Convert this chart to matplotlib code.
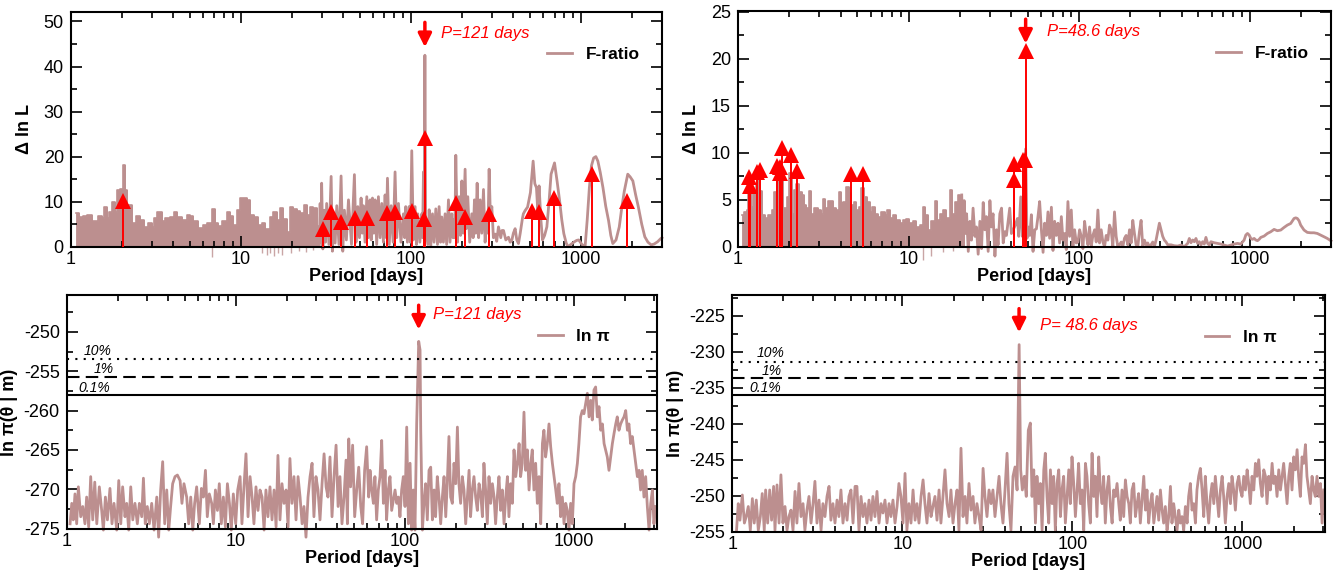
import numpy as np
import matplotlib.pyplot as plt
from matplotlib.ticker import MultipleLocator, FormatStrFormatter, NullFormatter

plt.rcParams['font.family'] = ['Liberation Sans', 'DejaVu Sans']
plt.rcParams['axes.unicode_minus'] = False

LINE_COLOR = '#bc8f8f'
RED = '#ff0000'

# ---------------- top left: F-ratio, 121 d ----------------
# dense short-period part drawn as a filled step envelope (period [d], value)
tl_env_p = [1.075, 1.124, 1.187, 1.242, 1.329, 1.391, 1.455, 1.521, 1.571, 1.628, 1.688, 1.750,
            1.823, 1.882, 1.950, 2.022, 2.078, 2.154, 2.284, 2.422, 2.556, 2.711, 2.863, 2.995,
            3.093, 3.234, 3.43, 3.59, 3.84, 4.05, 4.20, 4.50, 4.81, 5.04, 5.27, 5.64, 6.03, 6.31,
            6.75, 7.06, 7.39, 7.73, 8.27, 8.65, 8.97, 9.47, 9.91, 10.84, 11.35, 11.97, 12.70,
            13.29, 13.90, 14.88, 15.56, 16.29, 17.03, 17.83, 18.65, 19.5, 20.4, 21.3, 22.3, 23.4,
            24.4, 25.6, 26.7, 28.0, 29.0]
tl_env_v = [7.4, 6.7, 6.8, 7.0, 5.7, 5.8, 6.9, 6.3, 8.9, 6.3, 7.6, 9.9,
            7.8, 12.6, 12.7, 18.1, 12.6, 9.3, 5.2, 6.8, 5.9, 4.4, 5.2, 4.4,
            6.3, 7.8, 5.8, 6.3, 6.7, 7.6, 6.5, 5.9, 7.0, 6.8, 5.6, 4.1, 4.8, 5.2,
            8.3, 5.2, 4.6, 5.7, 7.8, 6.8, 4.8, 8.1, 10.7, 10.4, 7.0, 6.7, 4.8,
            5.3, 3.9, 6.7, 7.6, 5.9, 8.5, 6.1, 3.3, 8.8, 8.3, 7.9, 7.5, 9.2,
            7.1, 8.8, 8.6, 4.5, 4.5]
tl_dips = [(6.75, -2.2), (13.3, -1.5), (14.2, -1.8), (14.9, -1.3), (15.7, -2.0), (16.6, -1.5),
           (17.4, -1.8), (19.8, -1.5), (22.0, -1.0), (24.3, -1.2), (26.5, -0.8)]
tl_line = [(29.0, 0.5), (29.3, 9.6), (29.6, 1.0), (29.9, 14.1), (30.4, -0.5), (31.0, 8.1),
           (31.5, 1.0), (32.0, 9.6), (33.0, 0.5), (34.0, 15.6), (34.6, -1.0), (35.1, 7.3),
           (35.9, 0.8), (36.7, 9.1), (37.8, 0.5), (38.9, 15.7), (39.8, -1.0), (40.7, 8.1),
           (41.8, 1.5), (43.0, 10.4), (44.8, 0.5), (46.6, 16.0), (47.6, 1.0), (48.8, 8.9),
           (49.9, 2.0), (51.0, 10.8), (51.8, 3.0), (52.6, 9.1), (53.8, 1.0), (55.1, 11.1),
           (56.3, 2.0), (57.6, 10.4), (58.5, 1.5), (59.5, 10.8), (60.6, 3.0), (61.7, 10.4),
           (63.0, 0.5), (64.5, 11.1), (66.0, 2.0), (67.5, 9.6), (69.0, 1.0), (70.6, 11.5),
           (71.7, 2.0), (72.9, 15.2), (74.7, 0.5), (76.6, 9.1), (78.7, 1.0), (80.8, 16.6),
           (82.6, 2.0), (84.6, 9.6), (87.5, 1.0), (90.5, 7.3), (92.0, 2.0), (93.4, 8.9),
           (95.5, 1.0), (97.7, 8.9), (99.5, 1.0), (101.3, 21.3), (103.5, 1.5), (106.0, 8.9),
           (108.0, 0.5), (109.9, 7.3), (113.0, 1.0), (116.0, 7.3), (117.3, 2.0), (118.7, 16.6),
           (119.8, 4.0), (121.0, 42.5), (122.3, 4.0), (126.0, 0.5), (128.2, 8.2), (131.0, 0.0),
           (134.1, 7.3), (137.0, 1.0), (140.3, 8.4), (143.5, 0.5), (146.7, 8.9), (149.5, 1.0),
           (152.1, 6.6), (155.5, 1.0), (159.1, 7.3), (162.5, 0.5), (166.5, 10.4), (170.0, 1.0),
           (174.2, 7.3), (177.0, 2.0), (179.5, 6.0), (181.5, 2.0), (183.9, 20.3), (188.0, 1.0),
           (192.3, 11.1), (196.0, 2.5), (199.5, 14.6), (203.0, 3.0), (208.6, 17.2), (212.0, 4.0),
           (216.3, 11.1), (222.0, 1.0), (228.4, 7.3), (232.5, 2.0), (236.8, 10.4), (241.0, 3.0),
           (245.5, 14.1), (250.5, 2.0), (255.7, 10.4), (261.5, 3.0), (267.5, 12.7), (273.5, 1.0),
           (279.9, 6.6), (284.0, 3.0), (288.8, 17.2), (294.0, 6.0), (299.5, 8.9), (306.0, 2.0),
           (313.3, 2.8), (320.0, 1.2), (327.7, 4.4), (338.0, 2.0), (344.0, 3.6), (350.8, 3.6),
           (362.0, 1.5), (375.3, 2.1), (384.0, 1.0), (392.6, 1.4), (401.0, 3.0), (410.7, 4.0),
           (420.0, 1.5), (429.7, 0.7), (440.0, 3.0), (453.8, 6.4), (459.0, 7.3), (469.8, 8.0),
           (486.0, 8.8), (505.0, 12.0), (524.0, 19.0), (536.0, 14.0), (548.0, 13.1), (558.0, 8.0),
           (568.0, 13.5), (582.0, 6.0), (595.0, 1.5), (612.0, 2.5), (631.0, 4.4), (650.0, 10.0),
           (668.0, 16.1), (700.0, 18.6), (725.0, 14.5), (750.0, 10.2), (772.0, 6.0), (794.0, 2.9),
           (820.0, 0.8), (841.0, 0.0), (880.0, 0.6), (917.0, 1.1), (945.0, 1.4), (971.0, 1.5),
           (1015.0, 0.5), (1059.0, 0.0), (1090.0, 6.0), (1122.0, 13.1), (1155.0, 18.0),
           (1189.0, 19.7), (1225.0, 20.0), (1259.0, 19.0), (1300.0, 16.5), (1349.0, 13.1),
           (1400.0, 9.0), (1455.0, 5.8), (1500.0, 2.5), (1541.0, 0.7), (1610.0, 1.5),
           (1682.0, 4.4), (1745.0, 9.0), (1802.0, 12.4), (1887.0, 16.1), (1950.0, 15.5),
           (2022.0, 14.6), (2100.0, 11.5), (2179.0, 8.8), (2280.0, 5.0), (2377.0, 2.2),
           (2480.0, 1.0), (2593.0, 0.4), (2700.0, 0.6), (2826.0, 1.1), (2950.0, 1.8), (3000.0, 2.0)]
tl_signals = [(2.04, 10.2), (30.5, 4.0), (33.8, 7.8), (38.8, 5.4), (47.0, 6.3), (55.2, 6.4),
              (72.4, 7.5), (81.0, 7.8), (102.0, 7.9), (119.0, 6.1), (121.0, 24.2), (184.0, 9.7),
              (207.0, 6.7), (289.0, 7.3), (515.0, 8.0), (571.0, 7.7), (699.0, 10.8),
              (1156.0, 16.1), (1866.0, 10.2)]

# ---------------- top right: F-ratio, 48.6 d ----------------
tr_env_p = [1.05, 1.089, 1.124, 1.149, 1.191, 1.229, 1.269, 1.303, 1.345, 1.375, 1.439, 1.504,
            1.574, 1.632, 1.691, 1.737, 1.784, 1.841, 1.925, 1.987, 2.060, 2.135, 2.203, 2.274,
            2.357, 2.443, 2.521, 2.613, 2.697, 2.795, 2.950, 3.058, 3.155, 3.256, 3.375, 3.498,
            3.626, 3.758, 3.896, 4.002, 4.149, 4.320, 4.458, 4.62, 4.79, 4.94, 5.10, 5.29, 5.48,
            5.68, 5.92, 6.11, 6.33, 6.62, 6.92, 7.24, 7.50, 7.78, 8.10, 8.47, 8.86, 9.26, 9.69,
            10.1, 10.6, 11.1, 11.6, 12.1, 12.5, 13.0, 13.6, 14.2, 14.7, 15.2, 15.9, 16.6, 17.4,
            17.9, 18.6, 19.4, 20.1, 20.5]
tr_env_v = [3.4, 3.7, 3.9, 6.4, 4.2, 6.0, 6.7, 7.1, 5.9, 3.4, 3.1, 3.4,
            3.9, 5.8, 7.4, 8.1, 7.1, 4.1, 5.3, 7.8, 3.5, 6.0, 6.7, 5.8,
            5.5, 4.4, 4.1, 5.9, 3.5, 4.1, 3.9, 3.5, 5.1, 4.1, 4.9, 4.9,
            4.1, 3.9, 5.8, 4.6, 4.8, 6.4, 5.7, 4.4, 4.8, 3.9, 4.2, 6.2, 5.3,
            4.8, 3.7, 4.2, 3.5, 3.2, 3.7, 3.4, 3.9, 3.0, 3.4, 2.8, 2.5, 2.8, 2.9,
            2.5, 2.7, 2.1, 2.3, 4.2, 3.4, 1.8, 2.7, 4.9, 2.8, 3.5, 3.9, 3.0, 6.0,
            3.5, 4.8, 5.5, 3.2, 3.2]
tr_dips = [(12.1, -1.4), (13.6, -1.0), (16.0, -0.6), (18.2, -0.5)]
tr_line = [(20.5, 5.5), (20.9, 0.0), (21.2, 4.9), (21.6, 1.4), (21.9, 3.5), (22.4, -0.5),
           (22.9, 2.7), (23.4, 0.7), (23.9, 4.1), (24.5, 1.1), (25.0, 2.1), (25.6, -0.8),
           (26.2, 2.7), (26.8, -0.2), (27.4, 4.7), (28.0, 1.8), (28.6, 3.2), (29.3, -0.5),
           (30.0, 4.9), (30.6, 2.1), (31.3, 3.5), (32.1, -1.0), (32.8, 1.8), (33.5, 0.2),
           (34.3, 3.5), (35.1, 4.1), (35.9, 0.4), (36.7, 1.6), (37.5, 1.2), (39.2, 4.1),
           (40.1, 1.4), (42.3, 2.3), (43.5, 3.0), (44.3, 1.1), (45.5, 5.3), (46.5, 1.1),
           (47.2, 3.0), (48.6, 10.4), (49.5, 0.9), (50.2, 2.1), (51.4, 1.2), (52.5, 3.4),
           (53.7, -0.5), (55.0, 1.8), (56.2, 1.9), (57.4, 3.2), (58.7, 4.8), (60.1, 1.8),
           (61.5, -0.6), (62.8, 2.5), (64.3, 1.2), (65.7, 3.7), (67.2, 0.9), (68.8, 4.2),
           (70.3, -0.4), (71.9, 2.7), (73.5, 1.2), (75.2, 2.5), (76.9, 0.4), (78.7, 3.2),
           (80.4, 0.7), (82.3, 1.4), (84.1, -0.3), (86.0, 4.8), (88.0, 1.1), (90.0, 3.9),
           (92.0, 0.0), (94.1, 1.8), (96.3, 0.4), (98.5, 0.5), (100.7, 1.8), (103.0, 1.1),
           (105.3, -0.2), (107.7, 2.7), (110.2, 1.2), (112.7, 0.2), (115.2, 2.1), (117.8, 0.0),
           (120.5, 1.2), (123.3, 1.8), (126.0, 0.5), (128.9, 3.9), (131.8, 0.4), (134.8, 1.8),
           (137.9, 0.5), (141.0, 0.0), (144.2, 1.2), (147.5, 0.7), (150.8, 2.3), (154.2, 1.8),
           (157.7, 0.0), (161.3, 3.7), (165.0, 1.1), (168.7, 0.0), (172.6, 0.2), (176.5, 0.5),
           (180.5, 0.0), (184.6, 0.9), (188.8, 1.2), (193.1, 0.2), (197.5, 1.8), (201.9, 0.4),
           (206.5, 2.8), (211.2, 1.4), (216.0, 0.2), (220.9, 0.0), (225.9, 1.6), (231.0, 2.8),
           (236.3, 0.0), (241.6, 0.7), (247.1, 0.2), (252.7, 0.4), (258.4, 0.0), (264.3, 0.2),
           (270.3, 0.5), (276.4, 0.0), (282.7, 0.7), (289.1, 1.6), (295.7, 2.5), (302.4, 1.8),
           (309.2, 1.1), (316.3, 0.7), (323.5, 0.5), (330.8, 0.2), (346.0, 0.2), (361.9, 0.1),
           (378.5, 0.07), (395.9, 0.18), (414.0, 0.0), (433.1, 0.35), (443.0, 0.88), (453.0, 0.42),
           (463.4, 0.71), (473.8, 0.53), (484.5, 0.88), (495.5, 0.35), (506.8, 0.53), (518.2, 0.18),
           (530.0, 0.53), (542.0, 0.28), (554.3, 0.99), (567.0, 0.35), (579.8, 0.18), (592.9, 0.53),
           (620.2, 0.42), (648.6, 0.35), (678.3, 0.28), (709.4, 0.18), (742.0, 0.07), (776.0, 0.18),
           (811.6, 0.28), (848.8, 0.35), (887.8, 0.28), (928.5, 0.71), (949.6, 1.24), (971.4, 1.41),
           (993.4, 1.24), (1016, 0.88), (1039, 0.78), (1063, 0.88), (1087, 0.71), (1112, 0.64),
           (1137, 0.78), (1163, 0.99), (1216, 1.13), (1272, 1.41), (1330, 1.59), (1391, 1.84),
           (1423, 1.77), (1455, 1.70), (1522, 1.77), (1592, 2.05), (1665, 2.30), (1741, 2.47),
           (1821, 3.0), (1862, 3.07), (1905, 3.0), (1948, 2.76), (1992, 2.30), (2084, 1.77),
           (2179, 1.52), (2279, 1.48), (2384, 1.48), (2493, 1.41), (2608, 1.24), (2728, 1.06),
           (2853, 0.88), (2984, 0.64), (3000, 0.62)]
tr_signals = [(1.165, 7.4), (1.175, 6.5), (1.285, 7.95), (1.345, 8.2), (1.683, 8.55),
              (1.76, 8.5), (1.76, 7.85), (1.80, 10.5), (2.04, 9.7), (2.21, 8.1), (4.58, 7.7),
              (5.41, 7.7), (41.6, 7.1), (41.6, 8.8), (46.8, 9.2), (48.0, 9.2), (48.6, 20.8)]

# ---------------- bottom left: ln pi, 121 d (log10 period, value) ----------------
bl_line = [(0.020, -274.4), (0.030, -271.8), (0.039, -273.9), (0.049, -270.6), (0.059, -274.4),
           (0.069, -269.7), (0.083, -273.5), (0.095, -272.2), (0.108, -274.4), (0.118, -271.0),
           (0.130, -274.8), (0.142, -268.4), (0.154, -273.9), (0.166, -269.1), (0.178, -274.4),
           (0.193, -269.7), (0.207, -272.7), (0.217, -275.2), (0.229, -271.0), (0.241, -273.9),
           (0.256, -269.9), (0.268, -274.4), (0.280, -271.8), (0.296, -275.2), (0.308, -268.9),
           (0.320, -274.4), (0.331, -269.7), (0.345, -273.5), (0.355, -271.8), (0.367, -275.2),
           (0.379, -269.7), (0.391, -273.9), (0.404, -271.8), (0.418, -274.4), (0.430, -271.8),
           (0.444, -273.5), (0.454, -268.6), (0.465, -274.4), (0.477, -272.2), (0.489, -274.4),
           (0.503, -271.8), (0.517, -275.2), (0.533, -271.0), (0.544, -276.1), (0.556, -270.1),
           (0.568, -266.5), (0.580, -274.4), (0.592, -270.1), (0.604, -275.2), (0.615, -272.2),
           (0.627, -269.3), (0.641, -268.4), (0.655, -268.2), (0.671, -268.9), (0.682, -271.8),
           (0.694, -269.3), (0.710, -271.0), (0.722, -274.4), (0.734, -271.0), (0.746, -275.2),
           (0.757, -271.8), (0.769, -269.7), (0.785, -274.4), (0.797, -269.9), (0.809, -271.0),
           (0.821, -267.6), (0.832, -273.5), (0.844, -270.6), (0.858, -271.8), (0.868, -274.4),
           (0.880, -270.1), (0.892, -272.7), (0.903, -269.3), (0.915, -274.4), (0.927, -271.0),
           (0.939, -274.8), (0.951, -269.3), (0.963, -271.8), (0.974, -275.2), (0.986, -270.6),
           (1.000, -274.4), (1.012, -270.1), (1.026, -268.4), (1.037, -274.4), (1.049, -269.7),
           (1.061, -265.5), (1.073, -273.5), (1.085, -268.4), (1.097, -271.0), (1.108, -274.4),
           (1.120, -269.7), (1.132, -272.7), (1.144, -270.1), (1.156, -271.0), (1.168, -275.2),
           (1.179, -270.1), (1.191, -273.5), (1.203, -269.7), (1.215, -273.9), (1.227, -270.1),
           (1.239, -274.8), (1.250, -265.7), (1.262, -273.9), (1.274, -269.3), (1.286, -271.8),
           (1.298, -270.1), (1.310, -274.8), (1.321, -266.1), (1.333, -271.8), (1.345, -268.4),
           (1.357, -273.9), (1.369, -268.4), (1.381, -271.0), (1.393, -274.4), (1.404, -272.2),
           (1.416, -276.1), (1.428, -271.0), (1.440, -268.4), (1.452, -266.7), (1.463, -273.5),
           (1.475, -268.4), (1.487, -270.1), (1.499, -273.9), (1.511, -269.3), (1.523, -265.5),
           (1.535, -269.7), (1.546, -271.0), (1.558, -265.9), (1.570, -273.5), (1.582, -268.4),
           (1.594, -264.4), (1.606, -272.2), (1.617, -268.4), (1.629, -274.4), (1.641, -271.0),
           (1.653, -266.3), (1.661, -274.4), (1.669, -263.6), (1.680, -269.7), (1.692, -264.4),
           (1.704, -273.5), (1.716, -270.1), (1.728, -267.2), (1.740, -272.2), (1.751, -274.4),
           (1.763, -267.6), (1.775, -264.6), (1.787, -271.0), (1.795, -267.6), (1.805, -270.1),
           (1.815, -271.8), (1.824, -268.4), (1.834, -273.9), (1.844, -270.1), (1.854, -268.4),
           (1.864, -263.8), (1.874, -271.8), (1.884, -267.6), (1.893, -273.9), (1.903, -270.1),
           (1.913, -268.4), (1.923, -272.7), (1.933, -271.4), (1.943, -270.1), (1.953, -271.8),
           (1.963, -271.0), (1.972, -273.5), (1.982, -270.1), (1.992, -268.4), (2.002, -272.2),
           (2.012, -262.1), (2.022, -274.4), (2.032, -266.7), (2.041, -275.2), (2.051, -270.1),
           (2.061, -275.2), (2.071, -261.7), (2.083, -251.2), (2.091, -252.3), (2.095, -262.5),
           (2.105, -275.2), (2.114, -271.8), (2.124, -269.3), (2.134, -273.9), (2.144, -267.6),
           (2.154, -267.2), (2.164, -273.9), (2.174, -270.1), (2.183, -273.5), (2.193, -268.4),
           (2.203, -271.0), (2.213, -274.4), (2.223, -271.0), (2.233, -268.4), (2.243, -273.5),
           (2.252, -269.3), (2.262, -263.3), (2.272, -271.0), (2.282, -271.8), (2.292, -266.7),
           (2.302, -269.3), (2.312, -262.1), (2.321, -269.3), (2.331, -271.8), (2.341, -268.4),
           (2.351, -270.1), (2.361, -274.4), (2.371, -271.0), (2.381, -267.6), (2.390, -273.5),
           (2.400, -270.1), (2.410, -268.4), (2.420, -271.0), (2.430, -272.7), (2.440, -269.3),
           (2.450, -270.6), (2.460, -273.5), (2.469, -266.7), (2.479, -270.1), (2.489, -274.4),
           (2.499, -268.4), (2.509, -271.8), (2.519, -269.3), (2.529, -271.0), (2.538, -274.4),
           (2.548, -271.0), (2.558, -268.4), (2.568, -272.7), (2.578, -270.1), (2.588, -274.4),
           (2.598, -271.0), (2.608, -268.4), (2.617, -273.5), (2.627, -269.3), (2.637, -271.8),
           (2.647, -265.0), (2.657, -268.4), (2.667, -266.7), (2.677, -264.2), (2.686, -268.4),
           (2.696, -266.7), (2.706, -260.2), (2.716, -267.6), (2.726, -265.0), (2.736, -270.1),
           (2.746, -266.7), (2.755, -265.0), (2.765, -270.1), (2.775, -266.7), (2.785, -271.8),
           (2.795, -268.4), (2.805, -274.4), (2.815, -264.2), (2.824, -262.5), (2.834, -265.9),
           (2.844, -264.2), (2.854, -261.7), (2.864, -264.6), (2.874, -266.7), (2.884, -268.4),
           (2.894, -270.1), (2.903, -271.8), (2.913, -269.3), (2.923, -273.5), (2.933, -271.0),
           (2.943, -274.4), (2.953, -271.8), (2.962, -272.7), (2.972, -275.2), (2.982, -271.8),
           (2.992, -274.4), (3.002, -269.3), (3.012, -268.4), (3.022, -266.7), (3.031, -264.2),
           (3.041, -260.8), (3.051, -260.0), (3.061, -260.4), (3.071, -259.1), (3.081, -257.8),
           (3.091, -260.8), (3.101, -258.7), (3.110, -261.2), (3.120, -257.4), (3.130, -257.0),
           (3.140, -260.8), (3.150, -259.5), (3.160, -262.5), (3.170, -261.7), (3.180, -264.2),
           (3.189, -265.0), (3.199, -265.9), (3.209, -267.6), (3.219, -265.9), (3.229, -264.2),
           (3.239, -262.9), (3.249, -261.7), (3.258, -260.8), (3.268, -262.5), (3.278, -261.7),
           (3.288, -261.2), (3.298, -260.8), (3.308, -260.0), (3.318, -262.5), (3.327, -261.7),
           (3.337, -264.2), (3.347, -263.3), (3.357, -265.0), (3.367, -266.7), (3.377, -268.4),
           (3.387, -267.6), (3.396, -270.1), (3.406, -267.6), (3.416, -271.0), (3.426, -268.4),
           (3.436, -272.2), (3.446, -275.2), (3.456, -271.8), (3.466, -270.1), (3.475, -274.4),
           (3.485, -272.2)]
bl_levels = [-253.4, -255.7, -258.0]

# ---------------- bottom right: ln pi, 48.6 d (log10 period, value) ----------------
br_line = [(0.025, -254.8), (0.035, -251.1), (0.045, -253.4), (0.059, -249.9), (0.071, -253.8),
           (0.082, -252.9), (0.094, -251.5), (0.106, -254.8), (0.118, -250.4), (0.129, -253.8),
           (0.141, -250.6), (0.153, -254.8), (0.165, -252.9), (0.176, -249.7), (0.188, -254.8),
           (0.196, -249.2), (0.208, -253.8), (0.220, -249.2), (0.231, -253.4), (0.243, -248.7),
           (0.251, -254.8), (0.263, -248.5), (0.275, -253.8), (0.286, -247.1), (0.298, -253.8),
           (0.310, -251.5), (0.322, -254.8), (0.333, -252.9), (0.345, -252.0), (0.357, -254.8),
           (0.369, -249.4), (0.380, -253.8), (0.392, -248.3), (0.404, -252.9), (0.416, -251.1),
           (0.427, -254.8), (0.439, -252.0), (0.451, -250.1), (0.463, -253.8), (0.475, -251.1),
           (0.486, -248.0), (0.498, -253.8), (0.510, -250.6), (0.522, -254.8), (0.533, -251.1),
           (0.545, -252.9), (0.557, -250.1), (0.569, -248.7), (0.580, -253.4), (0.592, -251.1),
           (0.604, -253.8), (0.616, -250.6), (0.627, -252.9), (0.639, -249.2), (0.651, -253.8),
           (0.663, -251.1), (0.675, -253.4), (0.686, -250.1), (0.698, -249.2), (0.710, -253.8),
           (0.722, -248.7), (0.733, -248.7), (0.745, -254.8), (0.757, -250.1), (0.769, -252.9),
           (0.780, -251.1), (0.792, -253.8), (0.804, -250.6), (0.816, -253.4), (0.827, -250.1),
           (0.839, -252.9), (0.851, -249.4), (0.863, -253.8), (0.875, -251.1), (0.886, -252.4),
           (0.898, -250.6), (0.910, -253.8), (0.922, -251.1), (0.933, -252.9), (0.945, -250.6),
           (0.957, -253.8), (0.969, -251.5), (0.980, -248.3), (0.992, -250.1), (1.004, -253.8),
           (1.016, -246.9), (1.027, -254.8), (1.039, -251.1), (1.051, -253.8), (1.063, -249.2),
           (1.075, -253.4), (1.086, -251.1), (1.098, -253.8), (1.110, -250.1), (1.122, -247.8),
           (1.133, -251.1), (1.145, -253.8), (1.157, -249.7), (1.169, -252.9), (1.180, -251.5),
           (1.192, -250.1), (1.204, -253.4), (1.216, -249.2), (1.227, -253.8), (1.239, -250.1),
           (1.251, -246.4), (1.263, -251.1), (1.275, -252.9), (1.286, -249.2), (1.298, -253.8),
           (1.310, -251.1), (1.322, -249.2), (1.333, -254.8), (1.345, -243.4), (1.357, -252.9),
           (1.369, -250.1), (1.380, -253.8), (1.392, -248.3), (1.404, -252.0), (1.416, -250.1),
           (1.427, -253.8), (1.439, -251.1), (1.451, -252.9), (1.463, -254.8), (1.475, -246.2),
           (1.486, -250.1), (1.498, -252.9), (1.510, -249.2), (1.522, -251.1), (1.533, -249.2),
           (1.545, -252.9), (1.557, -250.1), (1.569, -247.3), (1.580, -251.1), (1.592, -253.8),
           (1.604, -249.2), (1.616, -244.1), (1.627, -251.1), (1.639, -254.8), (1.651, -247.3),
           (1.663, -246.0), (1.675, -249.2), (1.687, -229.0), (1.696, -246.4), (1.706, -249.2),
           (1.718, -247.3), (1.729, -250.1), (1.741, -240.9), (1.753, -239.9), (1.763, -250.1),
           (1.773, -246.4), (1.783, -253.8), (1.792, -247.3), (1.802, -251.1), (1.812, -248.3),
           (1.822, -254.8), (1.832, -246.4), (1.841, -244.1), (1.851, -250.1), (1.861, -253.8),
           (1.871, -246.4), (1.881, -251.1), (1.890, -247.3), (1.900, -254.8), (1.910, -248.3),
           (1.920, -246.4), (1.930, -252.9), (1.939, -249.2), (1.949, -247.3), (1.959, -253.8),
           (1.969, -250.1), (1.979, -246.4), (1.988, -251.1), (1.998, -244.6), (2.008, -248.3),
           (2.018, -252.9), (2.028, -249.2), (2.037, -245.5), (2.047, -251.1), (2.057, -249.2),
           (2.067, -254.8), (2.077, -245.5), (2.086, -247.3), (2.096, -251.1), (2.106, -253.8),
           (2.116, -244.1), (2.126, -250.1), (2.135, -247.3), (2.145, -252.9), (2.155, -244.6),
           (2.165, -249.2), (2.175, -251.1), (2.184, -247.3), (2.194, -253.8), (2.204, -249.2),
           (2.214, -247.3), (2.224, -251.5), (2.234, -253.8), (2.243, -249.2), (2.253, -250.1),
           (2.263, -248.3), (2.273, -251.1), (2.282, -253.4), (2.292, -249.2), (2.302, -252.9),
           (2.312, -247.8), (2.322, -250.1), (2.332, -251.1), (2.341, -253.8), (2.351, -249.2),
           (2.361, -248.3), (2.371, -252.9), (2.381, -251.1), (2.390, -249.7), (2.400, -253.8),
           (2.410, -250.6), (2.420, -247.3), (2.430, -252.0), (2.439, -249.2), (2.449, -253.8),
           (2.459, -251.1), (2.469, -249.7), (2.479, -253.8), (2.488, -252.0), (2.498, -250.1),
           (2.508, -253.4), (2.518, -249.2), (2.528, -252.0), (2.537, -253.8), (2.547, -251.5),
           (2.557, -254.8), (2.567, -252.9), (2.577, -248.7), (2.586, -253.8), (2.596, -251.1),
           (2.606, -252.9), (2.616, -254.8), (2.626, -252.0), (2.635, -253.8), (2.645, -252.9),
           (2.655, -254.8), (2.665, -251.5), (2.675, -253.8), (2.684, -250.1), (2.694, -248.3),
           (2.704, -252.0), (2.714, -251.1), (2.724, -253.8), (2.733, -249.2), (2.743, -247.3),
           (2.753, -246.2), (2.763, -249.2), (2.773, -252.9), (2.782, -247.3), (2.792, -251.1),
           (2.802, -253.8), (2.812, -250.1), (2.822, -248.3), (2.832, -251.1), (2.841, -247.3),
           (2.851, -250.1), (2.861, -252.9), (2.871, -249.2), (2.881, -247.3), (2.890, -250.1),
           (2.900, -253.8), (2.910, -250.1), (2.920, -248.3), (2.930, -251.1), (2.939, -247.3),
           (2.949, -249.2), (2.959, -252.0), (2.969, -248.3), (2.979, -247.3), (2.988, -249.2),
           (2.998, -250.1), (3.008, -247.3), (3.018, -249.2), (3.028, -246.4), (3.037, -248.3),
           (3.047, -251.1), (3.057, -247.3), (3.067, -249.2), (3.077, -245.5), (3.086, -247.3),
           (3.096, -245.0), (3.106, -248.3), (3.116, -250.1), (3.126, -246.4), (3.136, -247.3),
           (3.145, -251.1), (3.155, -247.3), (3.165, -249.2), (3.175, -245.5), (3.184, -248.3),
           (3.194, -247.3), (3.204, -250.1), (3.214, -246.4), (3.224, -249.2), (3.234, -247.3),
           (3.243, -245.5), (3.253, -248.3), (3.263, -251.1), (3.273, -247.3), (3.282, -245.5),
           (3.292, -249.2), (3.302, -244.6), (3.312, -246.4), (3.322, -243.6), (3.331, -247.3),
           (3.341, -250.1), (3.351, -244.6), (3.361, -245.5), (3.371, -242.9), (3.380, -247.3),
           (3.390, -249.2), (3.400, -251.1), (3.410, -247.3), (3.420, -249.2), (3.429, -250.1),
           (3.439, -247.3), (3.449, -250.1), (3.459, -248.3), (3.469, -253.8), (3.478, -249.2)]
br_levels = [-231.4, -233.7, -236.0]

level_labels = ['10%', '1%', '0.1%']
level_styles = [(0, (1, 3)), (0, (6, 3)), '-']


def setup(ax, xmax, ylim, major, minor):
    ax.set_xscale('log')
    ax.set_xlim(1, xmax)
    ax.set_ylim(*ylim)
    ax.yaxis.set_major_locator(MultipleLocator(major))
    ax.yaxis.set_minor_locator(MultipleLocator(minor))
    ax.yaxis.set_major_formatter(FormatStrFormatter('%g'))
    ax.xaxis.set_major_formatter(FormatStrFormatter('%g'))
    ax.xaxis.set_minor_formatter(NullFormatter())
    ax.tick_params(which='both', direction='in', top=True, right=True,
                   labelsize=13, width=1.2)
    ax.tick_params(axis='x', pad=3)
    ax.tick_params(axis='y', pad=5)
    ax.tick_params(which='major', length=8)
    ax.tick_params(which='minor', length=4)
    for s in ax.spines.values():
        s.set_linewidth(1.5)
    ax.set_xlabel('Period [days]', fontweight='bold', fontsize=13, labelpad=0)


def fratio_panel(ax, env_p, env_v, dips, line, signals):
    ax.fill_between(env_p, 0, env_v, step='post', facecolor=LINE_COLOR,
                    edgecolor=LINE_COLOR, lw=0.6)
    ax.plot(env_p, env_v, drawstyle='steps-post', color=LINE_COLOR, lw=1.2)
    dp, dv = np.array(dips).T
    ax.vlines(dp, dv, 0, color=LINE_COLOR, lw=1.0, alpha=0.8, clip_on=False)
    lp, lv = np.array(line).T
    h, = ax.plot(lp, lv, color=LINE_COLOR, lw=2.0, clip_on=False, label='F-ratio')
    sp, sv = np.array(signals).T
    ax.vlines(sp, 0, sv, color=RED, lw=1.4, zorder=4)
    ax.plot(sp, sv, '^', color=RED, ms=11, mew=0, zorder=5)
    return h


def lnpi_panel(ax, line, levels, xl):
    lp, lv = np.array(line).T
    h, = ax.plot(10 ** lp, lv, color=LINE_COLOR, lw=2.0, clip_on=False, label='ln π')
    for lev, lab, ls, (xp, dy) in zip(levels, level_labels, level_styles, xl):
        ax.axhline(lev, color='black', lw=1.5, ls=ls, zorder=3)
        ax.text(xp, lev + dy, lab, fontsize=10, style='italic', ha='center', va='center')
    return h


def marker(ax, x, y0, y1, tx, ty, label):
    ax.annotate('', xy=(x, y1), xytext=(x, y0),
                arrowprops=dict(arrowstyle='-|>,head_width=0.4,head_length=0.8',
                                color=RED, lw=2.5, mutation_scale=10, shrinkA=0, shrinkB=0))
    ax.text(tx, ty, label, color=RED, fontsize=12, style='italic', va='center')


def legend(ax, h, x, y):
    ax.legend(handles=[h], loc='center right', bbox_to_anchor=(x, y), frameon=False,
              prop={'weight': 'bold', 'size': 12.5}, handlelength=1.4, handletextpad=0.8,
              borderpad=0, borderaxespad=0)


W, H = 1337, 574
fig = plt.figure(figsize=(W / 100, H / 100), dpi=100)


def box(x0, x1, y0, y1):
    return [x0 / W, 1 - y1 / H, (x1 - x0) / W, (y1 - y0) / H]


ax_tl = fig.add_axes(box(70.7, 662, 12, 246.7))
ax_tr = fig.add_axes(box(738, 1331, 10.7, 246.7))
ax_bl = fig.add_axes(box(66.7, 656.7, 295, 529.3))
ax_br = fig.add_axes(box(732.3, 1324.7, 295, 531.7))

setup(ax_tl, 3000, (0, 52.1), 10, 5)
h = fratio_panel(ax_tl, tl_env_p, tl_env_v, tl_dips, tl_line, tl_signals)
marker(ax_tl, 121, 49.8, 44.3, 150, 47.3, 'P=121 days')
legend(ax_tl, h, 0.962, 0.82)
ax_tl.set_ylabel('Δ ln L', fontweight='bold', fontsize=13, labelpad=8)

setup(ax_tr, 3000, (0, 25.1), 5, 2.5)
h = fratio_panel(ax_tr, tr_env_p, tr_env_v, tr_dips, tr_line, tr_signals)
marker(ax_tr, 48.6, 24.2, 21.6, 64.5, 22.9, 'P=48.6 days')
legend(ax_tr, h, 0.962, 0.82)
ax_tr.set_ylabel('Δ ln L', fontweight='bold', fontsize=13, labelpad=8)

setup(ax_bl, 3100, (-275.1, -245.3), 5, 2.5)
h = lnpi_panel(ax_bl, bl_line, bl_levels, [(1.53, 1.0), (1.65, 1.0), (1.45, 0.9)])
marker(ax_bl, 121, -246.6, -249.7, 146.6, -247.75, 'P=121 days')
legend(ax_bl, h, 0.921, 0.822)
ax_bl.set_ylabel('ln π(θ | m)', fontweight='bold', fontsize=13, labelpad=4)

setup(ax_br, 3050, (-255.0, -222.1), 5, 2.5)
h = lnpi_panel(ax_br, br_line, br_levels, [(1.67, 1.25), (1.71, 1.05), (1.57, 1.0)])
marker(ax_br, 48.6, -224.0, -227.3, 64.9, -226.4, 'P= 48.6 days')
legend(ax_br, h, 0.919, 0.822)
ax_br.set_ylabel('ln π(θ | m)', fontweight='bold', fontsize=13, labelpad=4)

fig.savefig('out.png', dpi=100)
